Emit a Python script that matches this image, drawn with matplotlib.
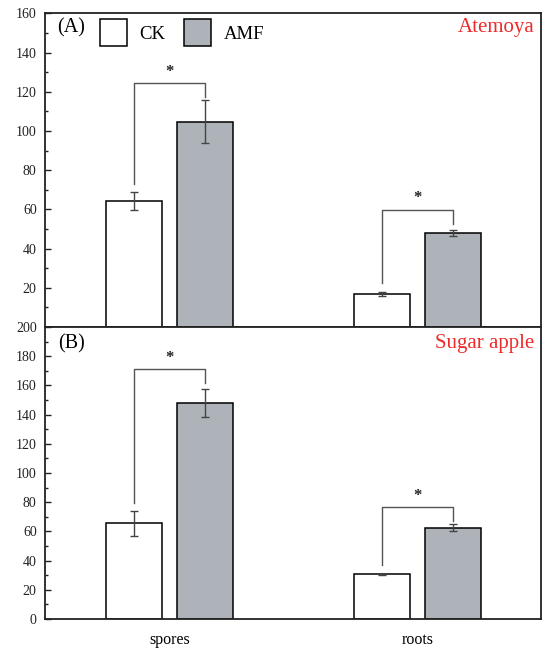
import matplotlib
matplotlib.use("Agg")
import matplotlib.pyplot as plt
import numpy as np
from matplotlib.patches import Patch
from matplotlib.ticker import MultipleLocator

plt.rcParams["font.family"] = ["Liberation Serif", "DejaVu Serif"]

groups = ["spores", "roots"]

# (A) Atemoya
atemoya_ck = [64.3, 16.8]
atemoya_ck_err = [4.8, 1.0]
atemoya_amf = [104.8, 48.0]
atemoya_amf_err = [10.9, 1.5]

# (B) Sugar apple
sugar_ck = [65.5, 30.5]
sugar_ck_err = [8.5, 0.5]
sugar_amf = [148.0, 62.5]
sugar_amf_err = [9.5, 2.3]

# significance brackets: top, left leg end, right leg end
atemoya_bracket = [124.3, 59.8]
atemoya_left_end = [72.8, 22.4]
atemoya_right_end = [117.5, 52.5]
sugar_bracket = [171.0, 76.6]
sugar_left_end = [79.6, 36.8]
sugar_right_end = [161.9, 67.0]

GRAY = "#adb3b8"
RED = "#ee2b2b"
DARK = "#222222"

fig = plt.figure(figsize=(5.42, 6.48), dpi=100)
left, right = 45 / 542, 540.5 / 542
ax_a = fig.add_axes([left, 1 - 327 / 648, right - left, (327 - 13.3) / 648])
ax_b = fig.add_axes([left, 1 - 619 / 648, right - left, (619 - 327) / 648])

x = np.arange(len(groups))
off = 0.143
width = 0.226


def draw_panel(ax, ck, ck_err, amf, amf_err, top, lend, rend, ymax):
    ax.bar(x - off, ck, width, color="white", edgecolor="black", linewidth=1.1, zorder=2)
    ax.bar(x + off, amf, width, color=GRAY, edgecolor="black", linewidth=1.1, zorder=2)
    ax.errorbar(x - off, ck, yerr=ck_err, fmt="none", ecolor="#444444",
                elinewidth=1.0, capsize=2.8, capthick=1.0, zorder=3)
    ax.errorbar(x + off, amf, yerr=amf_err, fmt="none", ecolor="#444444",
                elinewidth=1.0, capsize=2.8, capthick=1.0, zorder=3)
    for i in range(len(groups)):
        xl, xr = x[i] - off, x[i] + off
        ax.plot([xl, xl, xr, xr], [lend[i], top[i], top[i], rend[i]],
                color="#555555", linewidth=1.0, zorder=1)
        ax.text(x[i], top[i] + ymax * 0.012, "*", ha="center", va="bottom",
                fontsize=12, fontweight="bold", color="#222222")
    ax.set_xlim(-0.504, 1.496)
    ax.set_ylim(0, ymax)
    ax.yaxis.set_minor_locator(MultipleLocator(10))
    ax.tick_params(axis="y", which="major", direction="in", length=4,
                   width=1.0, labelsize=10, pad=6, colors=DARK)
    ax.tick_params(axis="y", which="minor", direction="in", length=2.5, width=1.0,
                   colors=DARK)
    for s in ax.spines.values():
        s.set_color(DARK)
        s.set_linewidth(1.3)


draw_panel(ax_a, atemoya_ck, atemoya_ck_err, atemoya_amf, atemoya_amf_err,
           atemoya_bracket, atemoya_left_end, atemoya_right_end, 160)
draw_panel(ax_b, sugar_ck, sugar_ck_err, sugar_amf, sugar_amf_err,
           sugar_bracket, sugar_left_end, sugar_right_end, 200)

ax_a.set_yticks(np.arange(20, 161, 20))
ax_a.set_xticks([])
ax_b.set_yticks(np.arange(0, 201, 20))
ax_b.set_xticks(x)
ax_b.set_xticklabels(groups, fontsize=11.5)
ax_b.tick_params(axis="x", length=0, pad=9)

ax_a.text(0.024, 0.985, "(A)", transform=ax_a.transAxes, ha="left", va="top",
          fontsize=14.5)
ax_b.text(0.026, 0.975, "(B)", transform=ax_b.transAxes, ha="left", va="top",
          fontsize=14.5)
ax_a.text(0.988, 0.985, "Atemoya", transform=ax_a.transAxes, ha="right",
          va="top", fontsize=15, color=RED)
ax_b.text(0.988, 0.975, "Sugar apple", transform=ax_b.transAxes, ha="right",
          va="top", fontsize=15, color=RED)

handles = [Patch(facecolor="white", edgecolor="black", linewidth=1.1, label="CK"),
           Patch(facecolor=GRAY, edgecolor="black", linewidth=1.1, label="AMF")]
ax_a.legend(handles=handles, loc="upper left", bbox_to_anchor=(0.111, 0.982),
            ncol=2, frameon=False, fontsize=13.5, handlelength=1.45,
            handleheight=1.85, handletextpad=0.65, columnspacing=1.0,
            borderpad=0, borderaxespad=0)

fig.savefig("out.png", dpi=100)
